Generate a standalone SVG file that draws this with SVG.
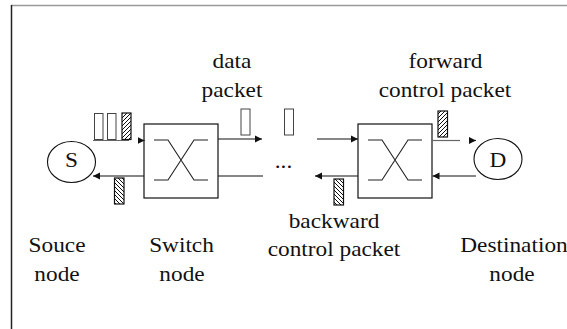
<svg xmlns="http://www.w3.org/2000/svg" width="567" height="329" viewBox="0 0 567 329">
  <style>
    .frame-top { stroke: #999; stroke-width: 1.5; fill: none; }
    .frame-left { stroke: #222; stroke-width: 1.5; fill: none; }
    .box { fill: #fff; stroke: #111; stroke-width: 1.2; }
    .node { fill: #fff; stroke: #111; stroke-width: 1.1; }
    .wire { stroke: #111; stroke-width: 1.1; fill: none; }
    .wire-soft { stroke: #666; stroke-width: 1.2; fill: none; }
    .xbar { stroke: #222; stroke-width: 1.1; fill: none; }
    .pkt { fill: #fff; stroke: #444; stroke-width: 1; }
    .pkt-fwd { fill: url(#hatchFwd); stroke: #111; stroke-width: 1.2; }
    .pkt-bwd { fill: url(#hatchBwd); stroke: #111; stroke-width: 1.2; }
    .head { fill: #111; }
    .lbl { font-family: "Liberation Serif", "Times New Roman", Times, serif; font-size: 22px; fill: #111; text-anchor: middle; }
  </style>
  <defs>
    <pattern id="hatchFwd" patternUnits="userSpaceOnUse" width="4" height="4">
      <rect width="4" height="4" fill="#fff"/>
      <path d="M-1,1 l2,-2 M0,4 l4,-4 M3,5 l2,-2" stroke="#111" stroke-width="1"/>
    </pattern>
    <pattern id="hatchBwd" patternUnits="userSpaceOnUse" width="4" height="4">
      <rect width="4" height="4" fill="#fff"/>
      <path d="M-1,3 l2,2 M0,0 l4,4 M3,-1 l2,2" stroke="#111" stroke-width="1"/>
    </pattern>
    <marker id="arrow" viewBox="0 0 8 8" refX="8" refY="4" markerWidth="7" markerHeight="8" markerUnits="userSpaceOnUse" orient="auto">
      <path d="M0,0 L8,4 L0,8 Z" class="head"/>
    </marker>
  </defs>

  <!-- page frame -->
  <path class="frame-top" d="M11,5.5 H567"/>
  <path class="frame-left" d="M11.5,5 V329"/>

  <!-- source node -->
  <g id="source">
    <ellipse class="node" cx="71.5" cy="162" rx="24" ry="20.5"/>
    <text class="lbl" transform="translate(71.5 167) scale(1.06 1)">S</text>
  </g>

  <!-- first switch -->
  <g id="switch1">
    <rect class="box" x="144" y="124" width="74" height="74"/>
    <path class="xbar" d="M154,140 H168 L194,180 H208 M154,180 H168 L194,140 H208"/>
  </g>

  <!-- second switch -->
  <g id="switch2">
    <rect class="box" x="358" y="124" width="74" height="74"/>
    <path class="xbar" d="M368,140 H382 L408,180 H422 M368,180 H382 L408,140 H422"/>
  </g>

  <!-- destination node -->
  <g id="destination">
    <ellipse class="node" cx="498" cy="159" rx="24" ry="20.5"/>
    <text class="lbl" transform="translate(498 166.5) scale(1.06 1)">D</text>
  </g>

  <!-- links between nodes -->
  <g id="connectors">
    <path class="wire-soft" d="M93,140.5 H129"/>
    <path class="wire" d="M138,140.5 H144.5" marker-end="url(#arrow)"/>
    <path class="wire" d="M218,139 H262" marker-end="url(#arrow)"/>
    <path class="wire" d="M317,139 H358" marker-end="url(#arrow)"/>
    <path class="wire-soft" d="M432,140.5 H460"/>
    <path class="wire" d="M469,140.5 H476" marker-end="url(#arrow)"/>
    <path class="wire" d="M476,176 H432.5" marker-end="url(#arrow)"/>
    <path class="wire" d="M358,176 H315" marker-end="url(#arrow)"/>
    <path class="wire" d="M218,176 H263"/>
    <path class="wire" d="M144,176 H93" marker-end="url(#arrow)"/>
  </g>

  <!-- packets in flight -->
  <g id="packets">
    <rect class="pkt" x="94.5" y="113.5" width="8.5" height="26"/>
    <rect class="pkt" x="107.5" y="113.5" width="8.5" height="26"/>
    <rect class="pkt-fwd" x="122" y="113" width="9" height="26.5"/>
    <rect class="pkt" x="241" y="109" width="9" height="26"/>
    <rect class="pkt" x="284.5" y="109" width="9" height="26"/>
    <rect class="pkt-fwd" x="438" y="111" width="9.5" height="26"/>
    <rect class="pkt-bwd" x="114.5" y="178" width="9.5" height="26"/>
    <rect class="pkt-bwd" x="334" y="179" width="9.5" height="26"/>
  </g>

  <!-- labels -->
  <g id="labels">
    <text class="lbl" transform="translate(283.5 168) scale(1.06 1)">...</text>
    <text class="lbl" transform="translate(232 68) scale(1.06 1)">data</text>
    <text class="lbl" transform="translate(232 97) scale(1.06 1)">packet</text>
    <text class="lbl" transform="translate(445.5 68) scale(1.06 1)">forward</text>
    <text class="lbl" transform="translate(445 97) scale(1.06 1)">control packet</text>
    <text class="lbl" transform="translate(334 228) scale(1.06 1)">backward</text>
    <text class="lbl" transform="translate(334 256) scale(1.06 1)">control packet</text>
    <text class="lbl" transform="translate(57 252) scale(1.06 1)">Souce</text>
    <text class="lbl" transform="translate(57 281) scale(1.06 1)">node</text>
    <text class="lbl" transform="translate(181.5 252) scale(1.06 1)">Switch</text>
    <text class="lbl" transform="translate(182 281) scale(1.06 1)">node</text>
    <text class="lbl" transform="translate(514 252) scale(1.06 1)">Destination</text>
    <text class="lbl" transform="translate(512 281) scale(1.06 1)">node</text>
  </g>
</svg>
